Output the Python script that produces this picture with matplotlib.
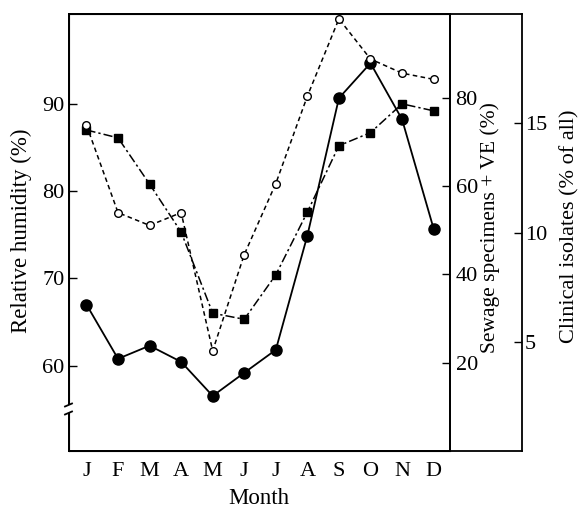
import matplotlib
matplotlib.use("Agg")
import matplotlib.pyplot as plt
from matplotlib.lines import Line2D
from matplotlib.patches import Rectangle

plt.rcParams['font.family'] = ['Liberation Serif', 'DejaVu Serif']

months = ['J', 'F', 'M', 'A', 'M', 'J', 'J', 'A', 'S', 'O', 'N', 'D']
# filled squares, dash-dot (left axis)
humidity = [87.0, 86.1, 80.8, 75.3, 66.0, 65.3, 70.4, 77.6, 85.2, 86.7, 90.0, 89.2]
# open circles, dashed (middle axis)
sewage = [73.8, 54.0, 51.1, 54.0, 22.7, 44.5, 60.6, 80.4, 97.9, 88.8, 85.6, 84.2]
# filled circles, solid (right axis)
clinical = [6.70, 4.22, 4.82, 4.08, 2.52, 3.58, 4.63, 9.86, 16.15, 17.75, 15.18, 10.18]

rh_ticks = [60, 70, 80, 90]
sew_ticks = [20, 40, 60, 80]
clin_ticks = [5, 10, 15]

W, H = 581, 508
fig = plt.figure(figsize=(W / 100, H / 100), dpi=100)

L, R_main, R_full, T, B = 68.5, 450, 522, 14, 451
x = list(range(len(months)))
xlo = -0.57
xhi = 11.52
xhi_full = xlo + (xhi - xlo) * (R_full - L) / (R_main - L)

FS = 16
LFS = 16.5
# full-frame axes carrying clinical scale
axc = fig.add_axes([L / W, 1 - B / H, (R_full - L) / W, (B - T) / H])
axc.set_xlim(xlo, xhi_full)
axc.set_ylim(0, 20)
axc.yaxis.tick_right()
axc.set_yticks(clin_ticks)
axc.tick_params(axis='y', direction='in', length=6, width=1, pad=2, labelsize=FS)
axc.set_xticks([])
for s in axc.spines.values():
    s.set_linewidth(1.3)
axc.plot(x, clinical, '-', color='black', lw=1.3, marker='o', ms=8,
         mfc='black', mec='black', zorder=3)

# main axes
ax = fig.add_axes([L / W, 1 - B / H, (R_main - L) / W, (B - T) / H])
ax.set_facecolor('none')
ax.set_xlim(xlo, xhi)
ax.set_ylim(50.2, 100.3)
ax.set_xticks(x)
ax.set_xticklabels(months)
ax.tick_params(axis='x', length=0, pad=8, labelsize=FS)
ax.set_yticks(rh_ticks)
ax.tick_params(axis='y', direction='in', length=6, width=1, pad=3, labelsize=FS)
for s in ax.spines.values():
    s.set_linewidth(1.3)
ax.plot(x, humidity, linestyle=(0, (6, 2, 1.5, 2)), color='black', lw=1.1,
        marker='s', ms=6, mfc='black', mec='black', zorder=3)

ax2 = ax.twinx()
ax2.set_ylim(0, 99)
ax2.set_yticks(sew_ticks)
ax2.tick_params(axis='y', direction='in', length=6, width=1, pad=4, labelsize=FS)
ax2.spines['right'].set_linewidth(1.3)
ax2.plot(x, sewage, linestyle=(0, (3, 2.2)), color='black', lw=1.1,
         marker='o', ms=5.5, mfc='white', mec='black', mew=1.0, zorder=4)

def px_to_ax(px, py):
    return ((px - L) / (R_main - L), (B - py) / (B - T))

ax.set_ylabel('Relative humidity (%)', fontsize=LFS)
ax.yaxis.set_label_coords(*px_to_ax(21, 231))
ax2.set_ylabel('Sewage specimens + VE (%)', fontsize=LFS - 1)
ax2.yaxis.set_label_coords(*px_to_ax(490, 228))
axc.set_ylabel('Clinical isolates (% of all)', fontsize=LFS - 0.5)
axc.yaxis.set_label_position('right')
axc.yaxis.set_label_coords((570 - L) / (R_full - L), (B - 226) / (B - T))
ax.set_xlabel('Month', fontsize=LFS)
ax.xaxis.set_label_coords(*px_to_ax(259, 498))
for lab in (ax.yaxis.label, ax2.yaxis.label, axc.yaxis.label, ax.xaxis.label):
    lab.set_verticalalignment('center')
    lab.set_horizontalalignment('center')
    lab.set_rotation_mode('anchor')

# axis break on left spine
bx = L / W
by1 = 1 - 413 / H
by2 = 1 - 405 / H
fig.add_artist(Rectangle((bx - 3 / W, by1), 6 / W, (by2 - by1), transform=fig.transFigure,
                         facecolor='white', edgecolor='none', zorder=10))
for yy in (405, 413):
    fig.add_artist(Line2D([bx - 3.5 / W, bx + 3.5 / W], [1 - (yy + 1.5) / H, 1 - (yy - 1.5) / H],
                          transform=fig.transFigure, color='black', lw=1.3, zorder=11))

fig.savefig('out.png', dpi=100)
